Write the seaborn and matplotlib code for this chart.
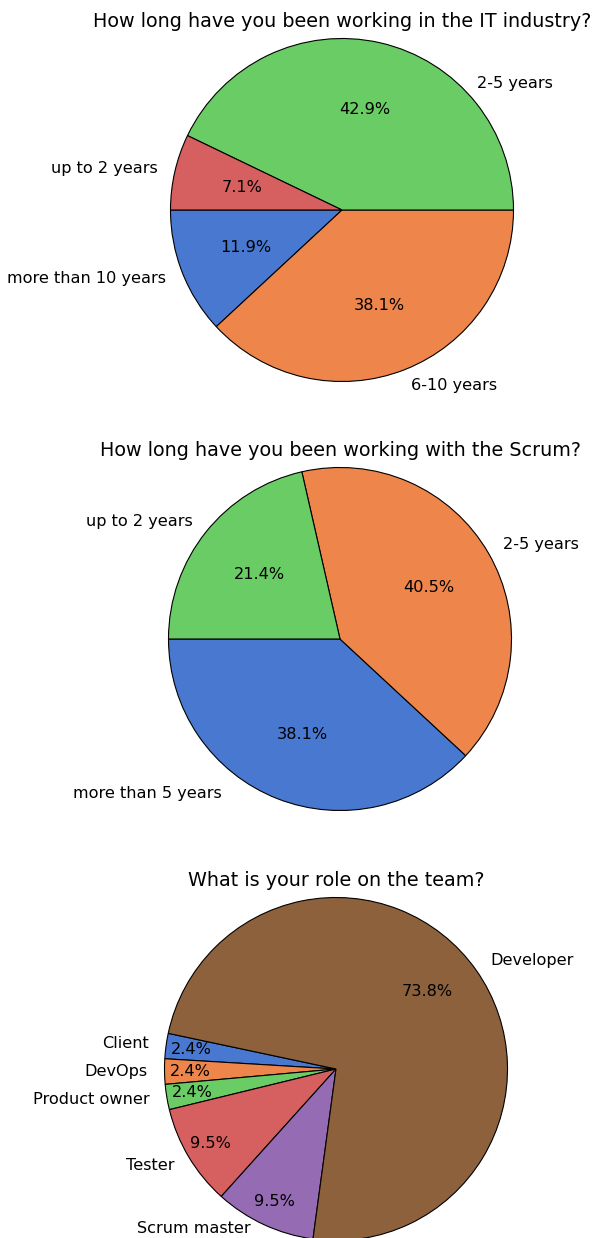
import numpy as np
import matplotlib
matplotlib.use('Agg')
import matplotlib.pyplot as plt
import seaborn as sns

sns.set_theme(style='white')
plt.rcParams['font.family'] = ['DejaVu Sans']
plt.rcParams['text.color'] = 'black'

# survey answers (respondent counts, 42 in total)
it_labels = ['more than 10 years', '6-10 years', '2-5 years', 'up to 2 years']
it_counts = [5, 16, 18, 3]

scrum_labels = ['more than 5 years', '2-5 years', 'up to 2 years']
scrum_counts = [16, 17, 9]

role_labels = ['Client', 'DevOps', 'Product owner', 'Tester', 'Scrum master', 'Developer']
role_counts = [1, 1, 1, 4, 4, 31]

titles = ['How long have you been working in the IT industry?',
          'How long have you been working with the Scrum?',
          'What is your role on the team?']

W, H = 593, 1238
fig = plt.figure(figsize=(W / 100, H / 100), dpi=100)
palette = sns.color_palette('muted')

# (center x, center y, radius) in pixels, start angle, pct distance
layout = [((342, 210, 171.5), 180, 0.6),
          ((340, 639, 171.5), 180, 0.6),
          ((336, 1069, 171.5), 168, 0.85)]
data = [(it_labels, it_counts), (scrum_labels, scrum_counts), (role_labels, role_counts)]

# hand-moved labels, to keep them clear of titles / edges
label_moves = [{2: (0.79, 0.74)}, {0: (-0.69, -0.90)}, {4: (-0.50, -0.93)}]
pct_moves = [{}, {}, {5: (0.53, 0.45)}]

for i, ((box, start, pdist), (labels, counts), title) in enumerate(zip(layout, data, titles)):
    cx, cy, r = box
    ax = fig.add_axes([(cx - r) / W, 1 - (cy + r) / H, 2 * r / W, 2 * r / H])
    wedges, texts, autotexts = ax.pie(
        counts, labels=labels, autopct='%1.1f%%', startangle=start,
        pctdistance=pdist, colors=palette[:len(counts)],
        wedgeprops={'edgecolor': 'black', 'linewidth': 0.8},
        textprops={'fontsize': 11.6, 'color': 'black'})
    for k, pos in label_moves[i].items():
        texts[k].set_position(pos)
    for k, pos in pct_moves[i].items():
        autotexts[k].set_position(pos)
    ax.set_xlim(-1, 1)
    ax.set_ylim(-1, 1)
    ax.set_title(title, fontsize=13.8, pad=8, color='black')

fig.savefig('out.png', dpi=100)
